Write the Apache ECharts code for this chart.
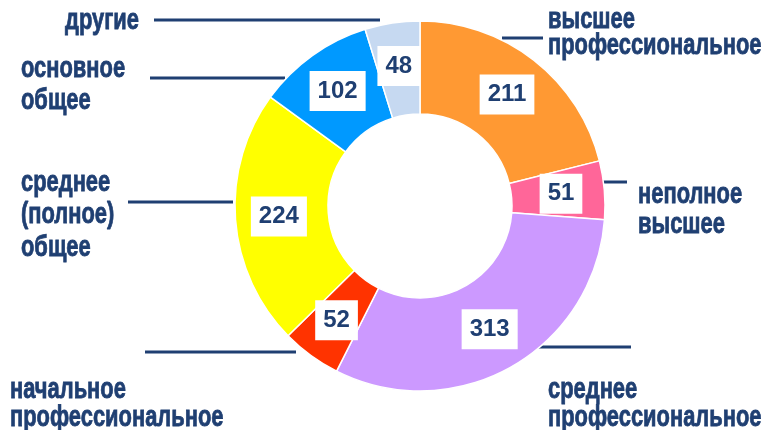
<!DOCTYPE html>
<html>
<head>
<meta charset="utf-8">
<script src="https://cdn.jsdelivr.net/npm/echarts@6/dist/echarts.min.js"></script>
<style>
  html, body { margin: 0; padding: 0; background: #fff; }
  #chart { width: 763px; height: 430px; }
</style>
</head>
<body>
<div id="chart"></div>
<script>
const categories = [
  'высшее\nпрофессиональное',
  'неполное\nвысшее',
  'среднее\nпрофессиональное',
  'начальное\nпрофессиональное',
  'среднее\n(полное)\nобщее',
  'основное\nобщее',
  'другие'
]
const counts = [211, 51, 313, 52, 224, 102, 48]
const colors = ['#ff9933', '#ff6699', '#cc99ff', '#ff3300', '#ffff00', '#0099ff', '#c6d9f1']

// outside names: left x, centre of first text line, line height,
// leader line as [x at the ring, x at the text, y]
const nameSpots = [
  { x: 548, y: 21, lh: 26, line: [502, 543, 38] },
  { x: 638, y: 196, lh: 30, line: [603, 627, 182] },
  { x: 548, y: 391, lh: 28, line: [533, 631, 347] },
  { x: 10, y: 391, lh: 28, line: [296, 145, 352] },
  { x: 21, y: 184, lh: 32.5, line: [233, 128, 202] },
  { x: 21, y: 70, lh: 32, line: [285, 150, 78] },
  { x: 65, y: 22, lh: 28, line: [380, 154, 20] }
]

const navy = '#1f3f72'

const chart = echarts.init(document.getElementById('chart'))

const ringData = categories.map((name, i) => ({
  name: name,
  value: counts[i],
  itemStyle: { color: colors[i] }
}))

// the names use a narrow-looking bold face, so squeeze the text sideways
const nameTexts = categories.map((name, i) => {
  const s = nameSpots[i]
  return {
    type: 'text',
    silent: true,
    x: s.x,
    y: s.y - 1.5 - s.lh / 2,
    scaleX: 0.755,
    style: {
      text: name,
      fill: navy,
      stroke: navy,
      lineWidth: 0.8,
      fontSize: 29,
      fontWeight: 'bold',
      fontFamily: "'Liberation Sans', Arial, sans-serif",
      lineHeight: s.lh,
      align: 'left',
      verticalAlign: 'top'
    }
  }
})

const leaders = nameSpots.map(s => ({
  type: 'line',
  silent: true,
  shape: { x1: s.line[0], y1: s.line[2], x2: s.line[1], y2: s.line[2] },
  style: { stroke: navy, lineWidth: 3 }
}))

chart.setOption({
  animation: false,
  graphic: leaders.concat(nameTexts),
  series: [
    {
      type: 'pie',
      center: [420, 206],
      radius: [92, 185],
      startAngle: 90,
      clockwise: true,
      silent: true,
      avoidLabelOverlap: false,
      itemStyle: { borderColor: '#fff', borderWidth: 1.5 },
      label: {
        show: true,
        position: 'inside',
        formatter: '{c}',
        backgroundColor: '#fff',
        padding: [8, 8],
        color: navy,
        fontSize: 24,
        lineHeight: 24,
        fontWeight: 'bold',
        fontFamily: "'Liberation Sans', Arial, sans-serif"
      },
      labelLine: { show: false },
      data: ringData
    }
  ]
})
</script>
</body>
</html>
